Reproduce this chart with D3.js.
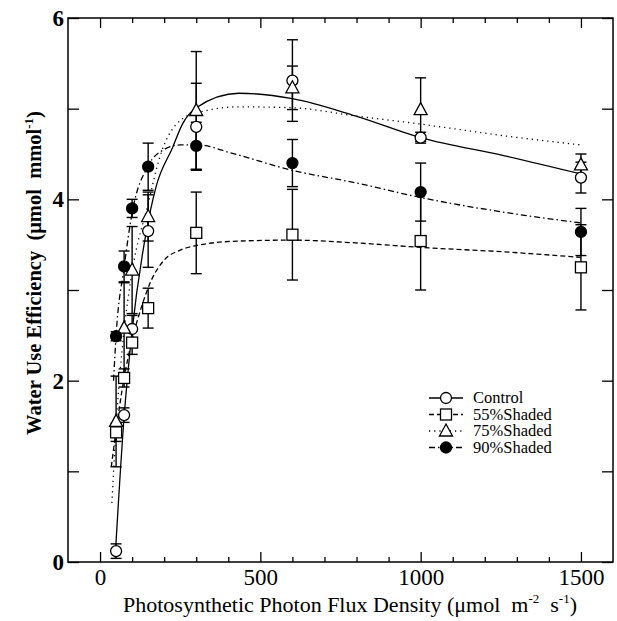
<!DOCTYPE html>
<html>
<head>
<meta charset="utf-8">
<script src="https://cdn.jsdelivr.net/npm/d3@7"></script>
<style>
  body { margin: 0; background: #fff; }
  svg { display: block; font-family: "Liberation Serif", "Times New Roman", serif; }
</style>
</head>
<body>
<div id="chart"></div>
<script>
// Set svg dimensions
var svgWidth = 617;
var svgHeight = 621;

// Measured points (PPFD levels)
var ppfd = [50, 75, 100, 150, 300, 600, 1000, 1500];

var controlWue = [0.12, 1.62, 2.57, 3.65, 4.80, 5.31, 4.68, 4.24];
var controlErr = [0.08, 0.08, 0.15, 0.40, 0.48, 0.45, 0.06, 0.17];

var shade55Wue = [1.43, 2.03, 2.42, 2.80, 3.63, 3.61, 3.54, 3.25];
var shade55Err = [0.10, 0.10, 0.13, 0.22, 0.45, 0.50, 0.54, 0.47];

var shade75Wue = [1.55, 2.58, 3.22, 3.81, 4.98, 5.23, 4.99, 4.38];
var shade75Err = [0.50, 0.50, 0.48, 0.27, 0.65, 0.24, 0.35, 0.12];

var shade90Wue = [2.49, 3.26, 3.90, 4.36, 4.59, 4.40, 4.08, 3.64];
var shade90Err = [0.05, 0.17, 0.10, 0.26, 0.26, 0.26, 0.32, 0.26];

// Fitted curves
var controlFitX = [47, 75, 100, 143, 174, 226, 257, 300, 433, 600, 796, 1000, 1262, 1500];
var controlFitY = [0.05, 1.6, 2.55, 3.62, 4.13, 4.57, 4.83, 5.01, 5.17, 5.11, 4.92, 4.68, 4.48, 4.28];

var shade55FitX = [35, 50, 75, 100, 128, 159, 200, 250, 300, 433, 600, 796, 1000, 1262, 1500];
var shade55FitY = [1.05, 1.45, 2.03, 2.45, 2.8, 3.1, 3.33, 3.44, 3.49, 3.54, 3.55, 3.52, 3.47, 3.42, 3.36];

var shade75FitX = [37, 50, 75, 100, 150, 185, 257, 300, 433, 600, 796, 1000, 1262, 1500];
var shade75FitY = [0.65, 1.5, 2.55, 3.2, 3.95, 4.45, 4.89, 4.95, 5.02, 5.01, 4.92, 4.83, 4.70, 4.60];

var shade90FitX = [42, 50, 75, 100, 150, 200, 250, 310, 400, 600, 800, 1000, 1274, 1500];
var shade90FitY = [2.0, 2.5, 3.25, 3.85, 4.37, 4.55, 4.6, 4.6, 4.52, 4.32, 4.18, 4.02, 3.85, 3.74];

var xMajor = [0, 500, 1000, 1500];
var xMinor = [100, 200, 300, 400, 600, 700, 800, 900, 1100, 1200, 1300, 1400];
var yTicks = [0, 1, 2, 3, 4, 5, 6];
var yLabels = [0, 2, 4, 6];

var legendNames = ["Control", "55%Shaded", "75%Shaded", "90%Shaded"];

var series = [
  { name: legendNames[0], y: controlWue, err: controlErr, fx: controlFitX, fy: controlFitY, mark: "circle", dash: null },
  { name: legendNames[1], y: shade55Wue, err: shade55Err, fx: shade55FitX, fy: shade55FitY, mark: "square", dash: "5,3" },
  { name: legendNames[2], y: shade75Wue, err: shade75Err, fx: shade75FitX, fy: shade75FitY, mark: "triangle", dash: "1.2,4" },
  { name: legendNames[3], y: shade90Wue, err: shade90Err, fx: shade90FitX, fy: shade90FitY, mark: "dot", dash: "6,3,1.5,3" }
];

var svg = d3.select("#chart")
  .append("svg")
  .attr("width", svgWidth)
  .attr("height", svgHeight);

var plotLeft = 68, plotRight = 613, plotTop = 18, plotBottom = 562;

var xScale = d3.scaleLinear().domain([-100, 1600]).range([plotLeft, plotRight]);
var yScale = d3.scaleLinear().domain([0, 6]).range([plotBottom, plotTop]);

// axes, ticks pointing inward
function styleAxis(g) {
  g.select(".domain").remove();
  g.selectAll(".tick line").attr("stroke", "#000").attr("stroke-width", 1.3);
}

svg.append("g")
  .attr("transform", `translate(0, ${plotBottom})`)
  .call(d3.axisBottom(xScale).tickValues(xMinor).tickSize(-5).tickFormat(""))
  .call(styleAxis);

svg.append("g")
  .attr("transform", `translate(0, ${plotBottom})`)
  .call(d3.axisBottom(xScale).tickValues(xMajor).tickSize(-10).tickPadding(7).tickFormat(d3.format("d")))
  .call(styleAxis)
  .selectAll("text")
  .attr("font-size", "23px")
  .attr("fill", "#000")
  .attr("font-family", "Liberation Serif, serif");

svg.append("g")
  .attr("transform", `translate(0, ${plotTop})`)
  .call(d3.axisTop(xScale).tickValues(xMinor).tickSize(-5).tickFormat(""))
  .call(styleAxis);

svg.append("g")
  .attr("transform", `translate(0, ${plotTop})`)
  .call(d3.axisTop(xScale).tickValues(xMajor).tickSize(-10).tickFormat(""))
  .call(styleAxis);

svg.append("g")
  .attr("transform", `translate(${plotLeft}, 0)`)
  .call(d3.axisLeft(yScale).tickValues(yTicks).tickSize(-11).tickPadding(4)
    .tickFormat(d => yLabels.indexOf(d) >= 0 ? d : ""))
  .call(styleAxis)
  .selectAll("text")
  .attr("font-size", "23px")
  .attr("font-weight", "bold")
  .attr("fill", "#000")
  .attr("font-family", "Liberation Serif, serif");

svg.append("g")
  .attr("transform", `translate(${plotRight}, 0)`)
  .call(d3.axisRight(yScale).tickValues(yTicks).tickSize(-11).tickFormat(""))
  .call(styleAxis);

// frame
svg.append("rect")
  .attr("x", plotLeft)
  .attr("y", plotTop)
  .attr("width", plotRight - plotLeft)
  .attr("height", plotBottom - plotTop)
  .attr("fill", "none")
  .attr("stroke", "#000")
  .attr("stroke-width", 1.5);

// fitted curves
var line = d3.line()
  .x(d => xScale(d[0]))
  .y(d => yScale(d[1]))
  .curve(d3.curveMonotoneX);

var plot = svg.append("g");

series.forEach(s => {
  plot.append("path")
    .datum(s.fx.map((x, i) => [x, s.fy[i]]))
    .attr("d", line)
    .attr("fill", "none")
    .attr("stroke", "#000")
    .attr("stroke-width", 1.3)
    .attr("stroke-dasharray", s.dash);
});

// error bars
var cap = 5.5;
series.forEach(s => {
  var g = plot.append("g").attr("stroke", "#000").attr("stroke-width", 1.4);
  ppfd.forEach((x, i) => {
    var cx = xScale(x);
    var y1 = yScale(s.y[i] + s.err[i]), y0 = yScale(Math.max(0, s.y[i] - s.err[i]));
    g.append("line").attr("x1", cx).attr("x2", cx).attr("y1", y1).attr("y2", y0);
    g.append("line").attr("x1", cx - cap).attr("x2", cx + cap).attr("y1", y1).attr("y2", y1);
    g.append("line").attr("x1", cx - cap).attr("x2", cx + cap).attr("y1", y0).attr("y2", y0);
  });
});

// markers
function drawMark(g, type, cx, cy) {
  if (type === "circle" || type === "dot") {
    g.append("circle")
      .attr("cx", cx).attr("cy", cy).attr("r", 5.5)
      .attr("fill", type === "dot" ? "#000" : "#fff")
      .attr("stroke", "#000").attr("stroke-width", 1.3);
  } else if (type === "square") {
    g.append("rect")
      .attr("x", cx - 5.5).attr("y", cy - 5.5)
      .attr("width", 11).attr("height", 11)
      .attr("fill", "#fff").attr("stroke", "#000").attr("stroke-width", 1.3);
  } else {
    g.append("path")
      .attr("d", `M${cx},${cy - 7} L${cx + 6.5},${cy + 5} L${cx - 6.5},${cy + 5} Z`)
      .attr("fill", "#fff").attr("stroke", "#000").attr("stroke-width", 1.3);
  }
}

series.forEach(s => {
  var g = plot.append("g");
  ppfd.forEach((x, i) => drawMark(g, s.mark, xScale(x), yScale(s.y[i])));
});

// legend
var legend = svg.append("g");
series.forEach((s, i) => {
  var ly = 398 + i * 16.5;
  legend.append("line")
    .attr("x1", 429).attr("x2", 463).attr("y1", ly).attr("y2", ly)
    .attr("stroke", "#000").attr("stroke-width", 1.3)
    .attr("stroke-dasharray", s.dash);
  drawMark(legend, s.mark, 446, ly);
  legend.append("text")
    .attr("x", 473).attr("y", ly + 5)
    .attr("font-size", "16.5px")
    .text(s.name);
});

// axis titles
var xTitle = svg.append("text")
  .attr("x", 350)
  .attr("y", 612)
  .attr("text-anchor", "middle")
  .attr("font-size", "22px")
  .attr("xml:space", "preserve");
xTitle.append("tspan").text("Photosynthetic Photon Flux Density (\u03bcmol  m");
xTitle.append("tspan").attr("dy", -9).attr("font-size", "13px").text("-2");
xTitle.append("tspan").attr("dy", 9).text("  s");
xTitle.append("tspan").attr("dy", -9).attr("font-size", "13px").text("-1");
xTitle.append("tspan").attr("dy", 9).text(")");

var yTitle = svg.append("text")
  .attr("transform", "translate(41, 273) rotate(-90)")
  .attr("text-anchor", "middle")
  .attr("font-size", "20.5px")
  .attr("font-weight", "bold")
  .attr("xml:space", "preserve");
yTitle.append("tspan").text("Water Use Efficiency  (\u03bcmol  mmol");
yTitle.append("tspan").attr("dy", -8).attr("font-size", "13px").text("-1");
yTitle.append("tspan").attr("dy", 8).text(")");
</script>
</body>
</html>
